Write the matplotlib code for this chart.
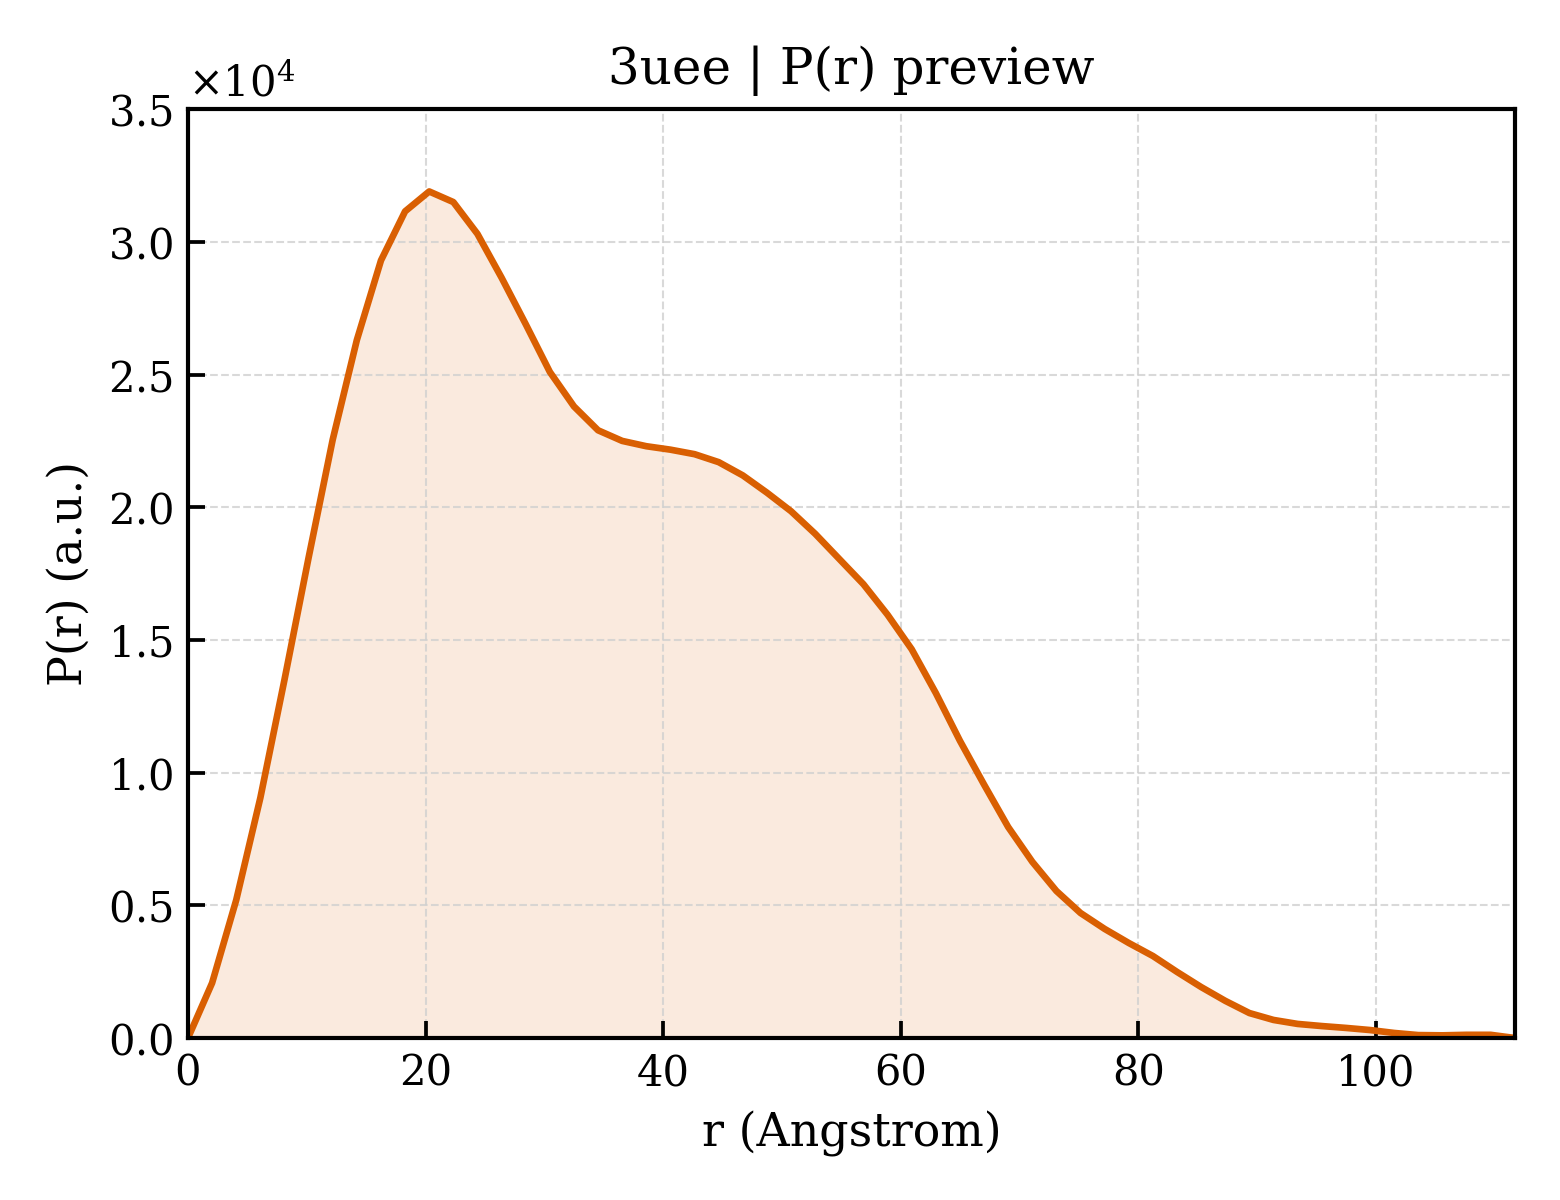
import numpy as np
import matplotlib
matplotlib.use("Agg")
import matplotlib.pyplot as plt

# P(r) preview for 3uee
r_max = 111.7
r = np.linspace(0, r_max, 56)
pr = [0, 2074, 5200, 9050, 13500, 18100, 22550, 26300, 29300, 31150,
      31900, 31500, 30300, 28650, 26900, 25100, 23800, 22900, 22500, 22300,
      22170, 22000, 21700, 21200, 20550, 19850, 19000, 18050, 17100, 15950,
      14650, 13000, 11200, 9550, 7950, 6640, 5540, 4710, 4110, 3580,
      3090, 2490, 1920, 1400, 940, 680, 530, 450, 380, 300,
      190, 110, 100, 120, 120, 0]

line_color = "#D95F02"

plt.rcParams['font.family'] = 'DejaVu Serif'
plt.rcParams['mathtext.fontset'] = 'dejavuserif'

fig = plt.figure(figsize=(5.2, 4), dpi=300)
ax = fig.add_axes([0.1205, 0.135, 0.8505, 0.774])

ax.fill_between(r, pr, 0, color=line_color, alpha=0.13, linewidth=0)
ax.plot(r, pr, color=line_color, linewidth=1.6)

ax.set_xlim(0, r_max)
ax.set_ylim(0, 35000)
ax.set_xticks([0, 20, 40, 60, 80, 100])
ax.set_yticks(np.arange(0, 35001, 5000))
ax.ticklabel_format(axis='y', style='sci', scilimits=(0, 0), useMathText=True)
ax.tick_params(direction='in', labelsize=10, length=4, width=0.9)
ax.grid(True, linestyle='--', color='#d0d0d0', linewidth=0.5, alpha=0.8)
for s in ax.spines.values():
    s.set_linewidth(1.0)

ax.set_title('3uee | P(r) preview', fontsize=12)
ax.set_xlabel('r (Angstrom)', fontsize=11)
ax.set_ylabel('P(r) (a.u.)', fontsize=11)

fig.savefig("out.png", dpi=300)
